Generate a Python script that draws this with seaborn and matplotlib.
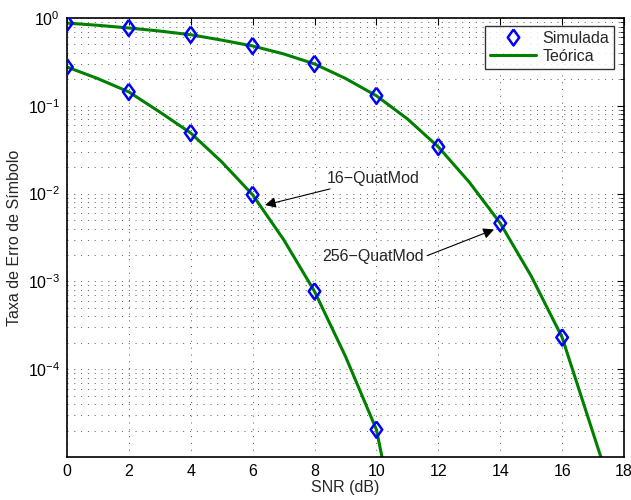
import numpy as np
import pandas as pd
import matplotlib
matplotlib.use("Agg")
import matplotlib.pyplot as plt
import seaborn as sns
from matplotlib.ticker import LogLocator, NullFormatter, FixedLocator
from matplotlib.lines import Line2D

# --- data ---
snr_sim16 = [0, 2, 4, 6, 8, 10]
ser_sim16 = [0.277, 0.144, 0.049, 0.0097, 0.00077, 2.05e-5]
snr_sim256 = [0, 2, 4, 6, 8, 10, 12, 14, 16]
ser_sim256 = [0.875, 0.77, 0.645, 0.48, 0.30, 0.13, 0.034, 0.0046, 2.3e-4]

snr_th16 = [0, 1, 2, 3, 4, 5, 6, 7, 8, 9, 10, 10.18]
ser_th16 = [0.277, 0.204, 0.144, 0.085, 0.049, 0.023, 0.0097, 0.0030, 0.00077, 1.4e-4, 2.05e-5, 1.0e-5]
snr_th256 = [0, 1, 2, 3, 4, 5, 6, 7, 8, 9, 10, 11, 12, 13, 14, 15, 16, 17.25]
ser_th256 = [0.875, 0.826, 0.77, 0.71, 0.645, 0.56, 0.48, 0.39, 0.30, 0.205, 0.13, 0.071,
             0.034, 0.0135, 0.0046, 0.00115, 2.3e-4, 1.0e-5]

xticks = [0, 2, 4, 6, 8, 10, 12, 14, 16, 18]
ytick_vals = [1e-4, 1e-3, 1e-2, 1e-1, 1e0]
ytick_labels = [r"$10^{-4}$", r"$10^{-3}$", r"$10^{-2}$", r"$10^{-1}$", r"$10^{0}$"]

sns.set_style("white")
plt.rcParams['font.family'] = ['Liberation Sans', 'DejaVu Sans']
plt.rcParams['mathtext.fontset'] = 'custom'
plt.rcParams['mathtext.rm'] = 'Liberation Sans'
plt.rcParams['mathtext.it'] = 'Liberation Sans'

FS = 11.5
diamond = [(0, 1), (0.72, 0), (0, -1), (-0.72, 0), (0, 1)]

fig = plt.figure(figsize=(6.31, 5.0), dpi=100)
ax = fig.add_axes([0.106, 0.086, 0.883, 0.878])

green = (0, 0.5, 0)
blue = (0, 0, 1)

th = pd.concat([
    pd.DataFrame({"snr": snr_th16, "ser": ser_th16, "mod": "16"}),
    pd.DataFrame({"snr": snr_th256, "ser": ser_th256, "mod": "256"}),
])
sim = pd.concat([
    pd.DataFrame({"snr": snr_sim16, "ser": ser_sim16, "mod": "16"}),
    pd.DataFrame({"snr": snr_sim256, "ser": ser_sim256, "mod": "256"}),
])

sns.lineplot(data=th, x="snr", y="ser", units="mod", estimator=None, color=green,
             linewidth=2.2, ax=ax, sort=False, zorder=2)
sns.scatterplot(data=sim, x="snr", y="ser", marker=diamond, s=135, facecolor="none",
                edgecolor=blue, linewidth=1.8, ax=ax, zorder=3)

ax.set_yscale("log")
ax.set_xlim(0, 18)
ax.set_ylim(1e-5, 1)
ax.xaxis.set_major_locator(FixedLocator(xticks))
ax.set_xticklabels([str(v) for v in xticks])
ax.yaxis.set_major_locator(FixedLocator(ytick_vals))
ax.set_yticklabels(ytick_labels)
ax.yaxis.set_minor_locator(LogLocator(base=10, subs=np.arange(2, 10), numticks=20))
ax.yaxis.set_minor_formatter(NullFormatter())

ax.grid(True, which="major", linestyle=(0, (1, 6)), color="0.35", linewidth=0.7)
ax.grid(True, which="minor", axis="y", linestyle=(0, (1, 6)), color="0.35", linewidth=0.7)
ax.tick_params(which="both", direction="in", top=True, right=True, labelsize=FS, colors="black")
ax.tick_params(which="major", length=5, width=0.8, pad=5)
ax.tick_params(which="minor", length=3, width=0.6)
for sp in ax.spines.values():
    sp.set_linewidth(1.2)
    sp.set_color("black")

ax.set_xlabel("SNR (dB)", fontsize=FS, labelpad=1)
ax.set_ylabel("Taxa de Erro de Símbolo", fontsize=FS, labelpad=4)

handles = [Line2D([], [], marker=diamond, linestyle="none", markerfacecolor="none",
                  markeredgecolor=blue, markeredgewidth=1.8, markersize=11.5),
           Line2D([], [], color=green, linewidth=2.2)]
leg = ax.legend(handles, ["Simulada", "Teórica"], loc="upper right", fontsize=FS,
                frameon=True, fancybox=False, edgecolor="black", borderpad=0.3,
                handlelength=2.9, handletextpad=0.4, labelspacing=0.2,
                borderaxespad=0, bbox_to_anchor=(0.982, 0.982))
leg.get_frame().set_linewidth(1.0)

ax.annotate("16\u2212QuatMod", xy=(6.4, 7.4e-3), xytext=(8.4, 1.5e-2), fontsize=FS,
            va="center", ha="left",
            arrowprops=dict(arrowstyle="-|>", color="black", lw=0.8, mutation_scale=16,
                            shrinkA=0, shrinkB=0))
ax.annotate("256\u2212QuatMod", xy=(13.8, 3.9e-3), xytext=(8.25, 1.9e-3), fontsize=FS,
            va="center", ha="left",
            arrowprops=dict(arrowstyle="-|>", color="black", lw=0.8, mutation_scale=16,
                            shrinkA=0, shrinkB=0, relpos=(1, 0.5)))

fig.savefig("out.png", dpi=100)
